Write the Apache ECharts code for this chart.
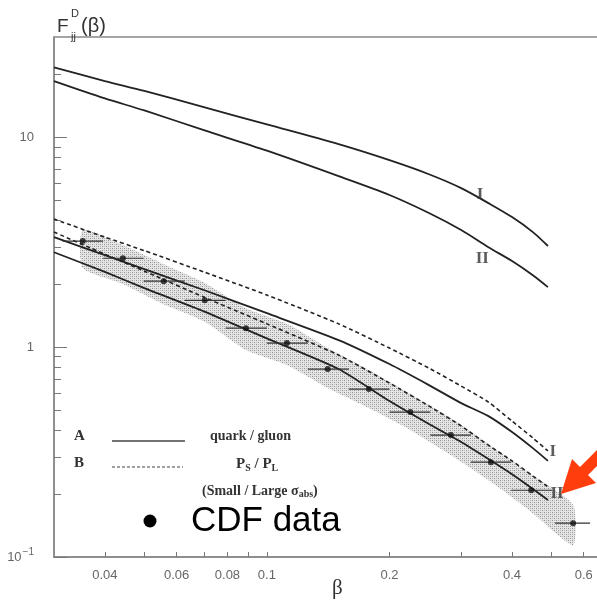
<!DOCTYPE html>
<html><head><meta charset="utf-8">
<script src="https://cdn.jsdelivr.net/npm/echarts@6/dist/echarts.min.js"></script>
<style>html,body{margin:0;padding:0;background:#fff;overflow:hidden}#c{width:640px;height:602px}</style>
</head><body><div id="c"></div>
<script>
// ---- data ----
const betaGrid = [0.03,0.04,0.05,0.07,0.1,0.15,0.2,0.25,0.3,0.35,0.4,0.45,0.49];
const topI   = [21.5,18.5,16.6,13.9,11.5,9.26,7.77,6.66,5.72,4.85,4.16,3.53,3.03];
const topII  = [18.5,15.3,13.4,10.8,8.62,6.52,5.30,4.35,3.61,2.99,2.57,2.20,1.93];
const quarkI  = [3.34,2.74,2.35,1.87,1.45,1.08,0.830,0.659,0.541,0.469,0.394,0.330,0.287];
const psplI   = [4.07,3.34,2.88,2.28,1.77,1.29,0.989,0.794,0.652,0.547,0.444,0.369,0.320];
const quarkII = [2.83,2.28,1.91,1.48,1.10,0.786,0.553,0.430,0.353,0.293,0.248,0.211,0.187];
const psplII  = [3.53,2.77,2.30,1.73,1.29,0.916,0.674,0.524,0.421,0.341,0.287,0.243,0.216];

const cdfBeta = [0.0353,0.0443,0.0558,0.0704,0.0888,0.112,0.141,0.178,0.225,0.283,0.355,0.446,0.565];
const cdfLo   = [0.0315,0.0396,0.0498,0.0628,0.0792,0.100,0.126,0.159,0.200,0.252,0.317,0.398,0.510];
const cdfHi   = [0.0396,0.0498,0.0628,0.0792,0.100,0.126,0.159,0.200,0.252,0.317,0.398,0.502,0.622];
const cdfF    = [3.20,2.65,2.06,1.67,1.23,1.045,0.786,0.631,0.49,0.381,0.283,0.208,0.145];
const bandUp  = [3.61,3.06,2.48,2.02,1.53,1.29,0.989,0.777,0.597,0.459,0.338,0.248,0.177];
const bandLow = [2.38,2.00,1.60,1.32,0.968,0.821,0.638,0.512,0.403,0.306,0.228,0.164,0.114];

const xTickVals = [0.04,0.05,0.06,0.07,0.08,0.09,0.1,0.2,0.3,0.4,0.5,0.6];
const xLabelVals = [0.04,0.06,0.08,0.1,0.2,0.4,0.6];
const xLabelText = ['0.04','0.06','0.08','0.1','0.2','0.4','0.6'];
const yMajor = [0.1,1,10];
const yMinor = [0.2,0.3,0.4,0.5,0.6,0.7,0.8,0.9,2,3,4,5,6,7,8,9,20];
const curveLabels = [[0.334,5.30,'I'],[0.338,2.65,'II'],[0.504,0.316,'I'],[0.516,0.200,'II']];

// ---- stipple pattern ----
const pc = document.createElement('canvas'); pc.width = 4; pc.height = 4;
const g = pc.getContext('2d');
g.fillStyle = 'rgba(190,190,190,0.4)'; g.fillRect(0,0,4,4);
g.fillStyle = 'rgba(100,100,100,0.65)'; g.fillRect(0,0,1,1); g.fillRect(2,2,1,1);
g.fillStyle = 'rgba(150,150,150,0.55)'; g.fillRect(2,0,1,1); g.fillRect(0,2,1,1);

const zip = (xs, ys) => xs.map((x,i)=>[x, ys[i]]);
const lineCol = '#222';
const serif = 'Liberation Serif';
const sans = 'Liberation Sans';

const chart = echarts.init(document.getElementById('c'), null, {renderer:'canvas'});
const axisCol = '#888';
const option = {
  animation:false,
  backgroundColor:'#fff',
  grid:{left:54, top:37, width:557, height:520, show:true, borderColor:axisCol, borderWidth:1.5},
  xAxis:[{type:'log', logBase:10, min:0.03, max:0.7,
    axisLine:{show:true, lineStyle:{color:axisCol, width:1.5}},
    axisTick:{show:true, inside:true, length:5, customValues:xTickVals, lineStyle:{color:'#777'}},
    axisLabel:{show:true, customValues:xLabelVals, margin:12, fontFamily:sans, fontSize:13, color:'#666',
      formatter:function(v){ let best=0; for(let i=0;i<xLabelVals.length;i++){ if(Math.abs(Math.log(v/xLabelVals[i]))<Math.abs(Math.log(v/xLabelVals[best]))) best=i;} return xLabelText[best]; }},
    splitLine:{show:false}, minorTick:{show:false}}],
  yAxis:[{type:'log', logBase:10, min:0.1, max:30, position:'left',
    axisLine:{show:true, lineStyle:{color:axisCol, width:1.5}},
    axisTick:{show:true, inside:true, length:13, customValues:yMajor, lineStyle:{color:'#777'}},
    axisLabel:{show:true, customValues:yMajor, margin:20, fontFamily:sans, fontSize:13, color:'#666',
      formatter:function(v){ const e=Math.round(Math.log10(v)); if(e===-1) return '{b|10}{s|−1}'; if(e===0) return '{b|1}'; return '{b|10}'; },
      rich:{b:{fontFamily:sans, fontSize:13, color:'#666'}, s:{fontFamily:sans, fontSize:10, color:'#666', padding:[0,0,9,1]}}},
    splitLine:{show:false}, minorTick:{show:false}},
   {type:'log', logBase:10, min:0.1, max:30, position:'left',
    axisLine:{show:false},
    axisTick:{show:true, inside:true, length:7, customValues:yMinor, lineStyle:{color:'#777'}},
    axisLabel:{show:false}, splitLine:{show:false}, minorTick:{show:false}}],
  series:[
    {type:'custom', z:1, silent:true, coordinateSystem:'cartesian2d',
      data:[[cdfBeta[0], bandUp[0]]],
      renderItem:function(params, api){
        const pts=[];
        for(let i=0;i<cdfBeta.length;i++) pts.push(api.coord([cdfBeta[i], bandUp[i]]));
        for(let i=cdfBeta.length-1;i>=0;i--) pts.push(api.coord([cdfBeta[i], bandLow[i]]));
        return {type:'polygon', shape:{points:pts, smooth:0.2}, style:{fill:{image:pc, repeat:'repeat'}, stroke:null}};
      }},
    {type:'line', name:'top I', data:zip(betaGrid, topI), smooth:0.3, symbol:'none', lineStyle:{color:lineCol, width:1.8}, z:3},
    {type:'line', name:'top II', data:zip(betaGrid, topII), smooth:0.3, symbol:'none', lineStyle:{color:lineCol, width:1.8}, z:3},
    {type:'line', name:'A I', data:zip(betaGrid, quarkI), smooth:0.2, symbol:'none', lineStyle:{color:lineCol, width:1.8}, z:3},
    {type:'line', name:'A II', data:zip(betaGrid, quarkII), smooth:0.2, symbol:'none', lineStyle:{color:lineCol, width:1.8}, z:3},
    {type:'line', name:'B I', data:zip(betaGrid, psplI), smooth:0.2, symbol:'none', lineStyle:{color:lineCol, width:1.6, type:[4,3]}, z:3},
    {type:'line', name:'B II', data:zip(betaGrid, psplII), smooth:0.2, symbol:'none', lineStyle:{color:lineCol, width:1.6, type:[4,3]}, z:3},
    {type:'custom', z:4, silent:true,
      data:cdfBeta.map((b,i)=>[cdfLo[i], cdfHi[i], cdfF[i]]),
      renderItem:function(params, api){
        const a=api.coord([api.value(0), api.value(2)]);
        const b=api.coord([api.value(1), api.value(2)]);
        return {type:'line', shape:{x1:a[0], y1:a[1], x2:b[0], y2:b[1]}, style:{stroke:'#333', lineWidth:1.2}};
      }},
    {type:'scatter', name:'CDF data', data:zip(cdfBeta, cdfF), symbol:'circle', symbolSize:6, itemStyle:{color:'#111'}, z:5},
    {type:'scatter', name:'labels', data:curveLabels, symbolSize:0, z:5,
      label:{show:true, position:'inside', formatter:p=>p.data[2], fontFamily:serif, fontSize:17, fontWeight:'bold', color:'#333'}}
  ],
  graphic:[
    {type:'text', left:57, top:17, style:{text:'F', font:'19px "Liberation Sans"', fill:'#333'}},
    {type:'text', left:71, top:8, style:{text:'D', font:'11px "Liberation Sans"', fill:'#333'}},
    {type:'text', left:71, top:31, style:{text:'jj', font:'11px "Liberation Sans"', fill:'#333'}},
    {type:'text', left:81, top:16, style:{text:'(β)', font:'20px "Liberation Sans"', fill:'#333'}},
    {type:'text', left:332, top:578, style:{text:'β', font:'21px "Liberation Serif"', fill:'#333'}},
    {type:'text', left:74, top:429, style:{text:'A', font:'bold 15px "Liberation Serif"', fill:'#333'}},
    {type:'line', shape:{x1:112, y1:441, x2:185, y2:441}, style:{stroke:'#444', lineWidth:1.3}},
    {type:'text', left:210, top:429, style:{text:'quark / gluon', font:'bold 14px "Liberation Serif"', fill:'#333'}},
    {type:'text', left:74, top:456, style:{text:'B', font:'bold 15px "Liberation Serif"', fill:'#333'}},
    {type:'line', shape:{x1:112, y1:467, x2:183, y2:467}, style:{stroke:'#444', lineWidth:1.2, lineDash:[3,2]}},
    {type:'text', left:236, top:457, style:{rich:{n:{font:'bold 15px "Liberation Serif"', fill:'#333'}, s:{font:'bold 10px "Liberation Serif"', fill:'#333', padding:[8,0,0,0]}}, text:'{n|P}{s|S}{n| / P}{s|L}'}},
    {type:'text', left:202, top:484, style:{rich:{n:{font:'bold 14px "Liberation Serif"', fill:'#333'}, s:{font:'bold 10px "Liberation Serif"', fill:'#333', padding:[6,0,0,0]}}, text:'{n|(Small / Large σ}{s|abs}{n|)}'}},
    {type:'circle', shape:{cx:150, cy:521, r:6.5}, style:{fill:'#000'}},
    {type:'text', left:191, top:504, style:{text:'CDF data', font:'35px "Liberation Sans"', fill:'#000'}},
    {type:'polygon', z:100, shape:{points:[[561,494],[572,459],[580,467],[620,427],[628,435],[588,475],[596,483]]}, style:{fill:'#ff3d0d'}}
  ]
};
chart.setOption(option);
</script></body></html>
